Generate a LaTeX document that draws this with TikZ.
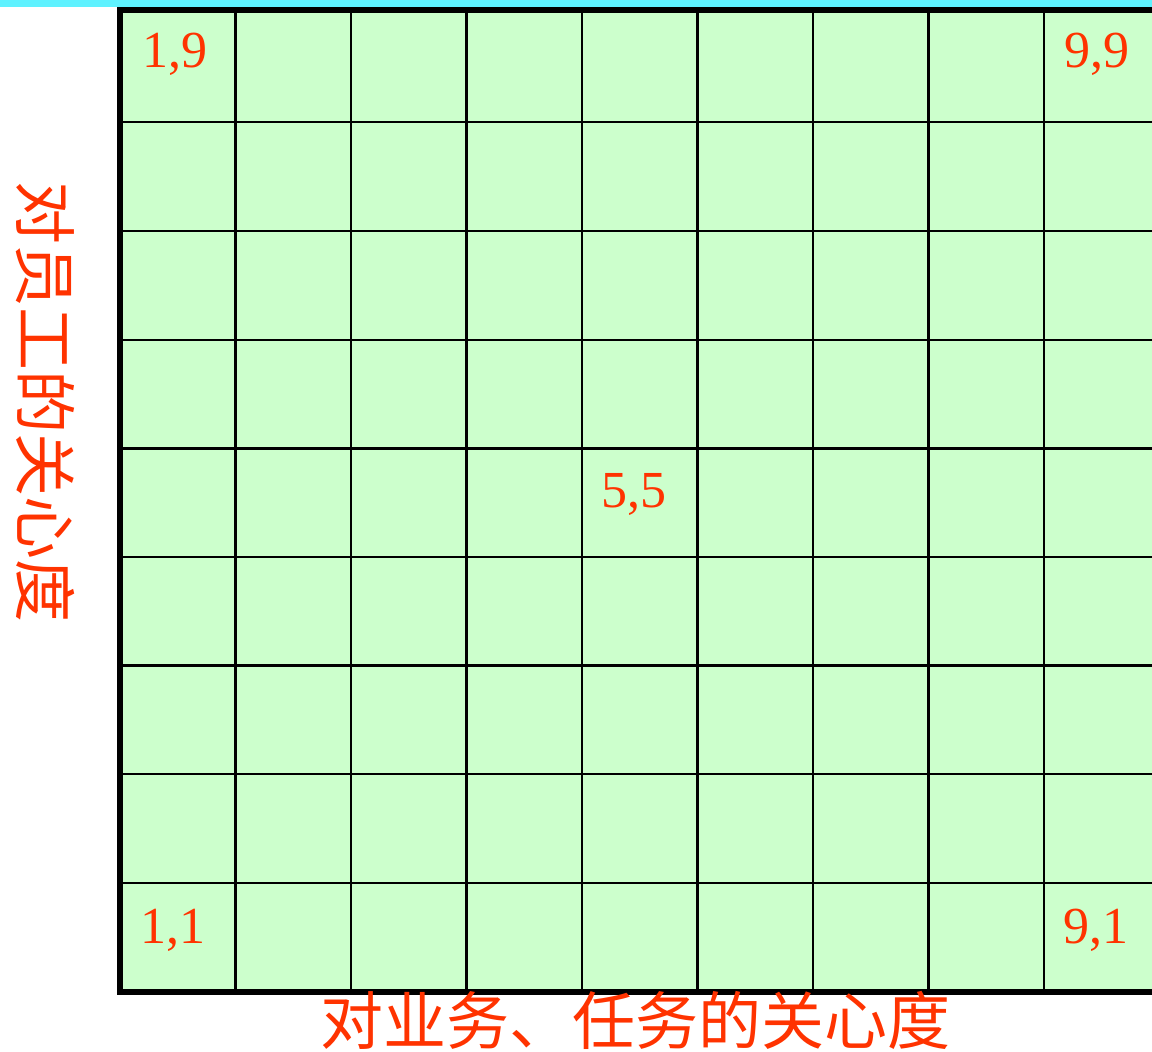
\documentclass[tikz,border=0pt]{standalone}
\usepackage{fontspec}
\setmainfont{Liberation Serif}
\newfontfamily\cjk{Noto Sans CJK SC}
\definecolor{cellgreen}{HTML}{CCFFCC}
\definecolor{labelred}{HTML}{FF3300}
\definecolor{topcyan}{HTML}{5EF2FF}
\begin{document}
\begin{tikzpicture}[x=1pt,y=-1pt,
  gridline/.style={line width=2.4pt,black},
  border/.style={line width=5.5pt,black},
  cellnum/.style={text=labelred,font=\fontsize{52}{52}\selectfont,inner sep=0pt},
  axislabel/.style={text=labelred,font=\cjk\fontsize{63}{63}\selectfont,inner sep=0pt}]
\useasboundingbox (0,0) rectangle (1152,1052);
\clip (0,0) rectangle (1152,1052);
\fill[white] (0,0) rectangle (1152,1052);
\fill[topcyan] (0,0) rectangle (1152,6.5);
\fill[cellgreen] (120,10) rectangle (1165,992);
% vertical grid lines
\foreach \x in {235.5,351,466.5,582,697.5,813,928.5,1044}
  \draw[gridline] (\x,10) -- (\x,992);
% horizontal grid lines
\foreach \y in {122,231,340,448.5,557,665.5,774,883}
  \draw[gridline] (120,\y) -- (1165,\y);
% thick borders
\draw[border] (1165,10) -- (120,10) -- (120,992) -- (1165,992);
% cell labels
\node[cellnum] (c19) at (175,54) {1,9};
\node[cellnum] (c99) at (1097,54) {9,9};
\node[cellnum] (c55) at (634,494) {5,5};
\node[cellnum] (c11) at (173,930) {1,1};
\node[cellnum] (c91) at (1096,930) {9,1};
% axis labels
\node[axislabel] (xlab) at (635,1020) {对业务、任务的关心度};
\node[axislabel,rotate=-90] (ylab) at (45,402) {对员工的关心度};
\end{tikzpicture}
\end{document}
